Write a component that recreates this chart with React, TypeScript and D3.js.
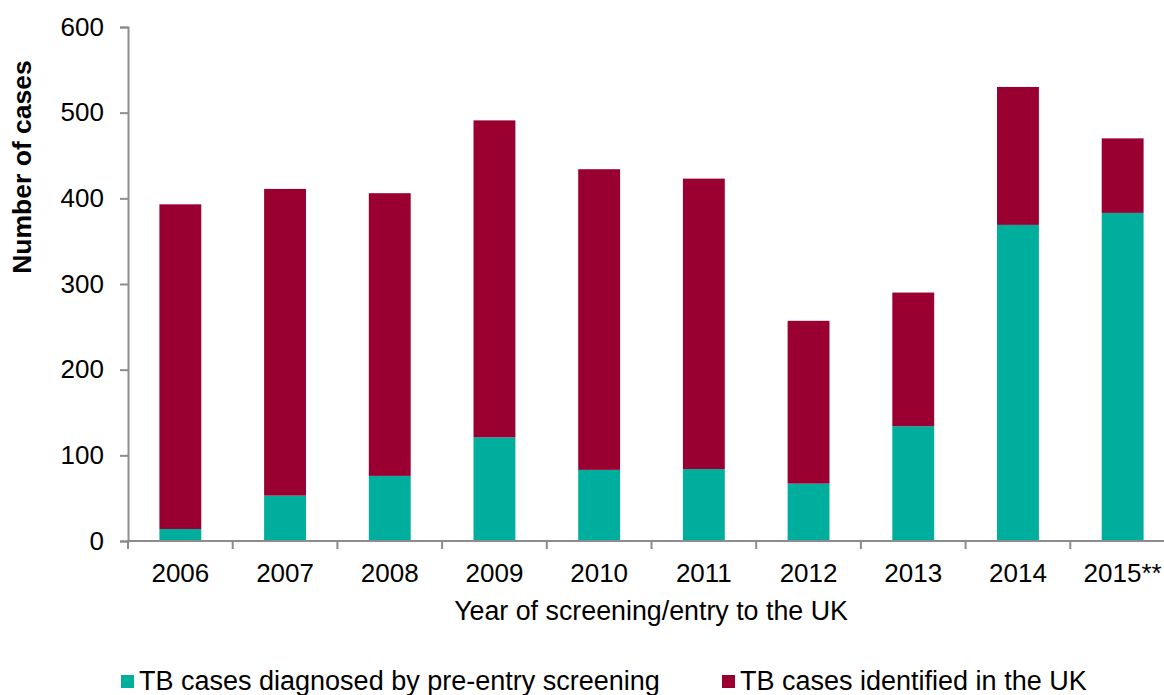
import React, { useRef, useEffect } from 'react';
import * as d3 from 'd3';

const years = ['2006', '2007', '2008', '2009', '2010', '2011', '2012', '2013', '2014', '2015**'];
const preEntry = [14, 53, 76, 121, 83, 84, 67, 134, 369, 383];
const identifiedUK = [379, 358, 330, 370, 351, 339, 190, 156, 161, 87];
const yTicks = [0, 100, 200, 300, 400, 500, 600];

const series = [
  { key: 'preEntry', name: 'TB cases diagnosed by pre-entry screening', color: '#00ae9e', values: preEntry },
  { key: 'uk', name: 'TB cases identified in the UK', color: '#990031', values: identifiedUK },
];

const App: React.FC = () => {
  const svgRef = useRef<SVGSVGElement | null>(null);

  useEffect(() => {
    if (!svgRef.current) return;
    const svg = d3.select(svgRef.current);
    svg.selectAll('*').remove();

    const font = '"Liberation Sans", Arial, sans-serif';
    const axisColor = '#8c8c8c';

    const x = d3.scaleBand().domain(years).range([128, 1175]).paddingInner(0).paddingOuter(0);
    const y = d3.scaleLinear().domain([0, 600]).range([541, 27]);
    const barW = x.bandwidth() * 0.4;

    const rows = years.map((yr, i) => ({ year: yr, preEntry: preEntry[i], uk: identifiedUK[i] }));
    const stack = d3.stack<any>().keys(['preEntry', 'uk'])(rows);

    stack.forEach((layer, li) => {
      svg.append('g')
        .selectAll('rect')
        .data(layer)
        .join('rect')
        .attr('x', d => x(d.data.year)! + (x.bandwidth() - barW) / 2)
        .attr('y', d => y(d[1]))
        .attr('width', barW)
        .attr('height', d => y(d[0]) - y(d[1]))
        .attr('fill', series[li].color);
    });

    // Y axis
    const yAxis = svg.append('g')
      .attr('transform', 'translate(128,0)')
      .call(d3.axisLeft(y).tickValues(yTicks).tickSize(8).tickPadding(16));
    yAxis.select('.domain').attr('stroke', axisColor).attr('stroke-width', 2);
    yAxis.selectAll('.tick line').attr('stroke', axisColor).attr('stroke-width', 2);
    yAxis.selectAll('text')
      .style('font-family', font)
      .style('font-size', '26px')
      .attr('fill', '#000');

    // X axis
    const xAxis = svg.append('g').attr('transform', 'translate(0,541)');
    xAxis.append('line')
      .attr('x1', 128).attr('x2', 1175)
      .attr('stroke', axisColor).attr('stroke-width', 2);
    const bounds = [...years.map(yr => x(yr)!), 1175];
    xAxis.selectAll('.xt')
      .data(bounds)
      .join('line')
      .attr('x1', d => d).attr('x2', d => d)
      .attr('y1', 0).attr('y2', 8)
      .attr('stroke', axisColor).attr('stroke-width', 2);
    xAxis.selectAll('text')
      .data(years)
      .join('text')
      .attr('x', d => x(d)! + x.bandwidth() / 2)
      .attr('y', 41)
      .attr('text-anchor', 'middle')
      .style('font-family', font)
      .style('font-size', '26px')
      .text(d => d);

    svg.append('text')
      .attr('x', 651)
      .attr('y', 620)
      .attr('text-anchor', 'middle')
      .style('font-family', font)
      .style('font-size', '26.8px')
      .text('Year of screening/entry to the UK');

    svg.append('text')
      .attr('transform', 'translate(31,167) rotate(-90)')
      .attr('text-anchor', 'middle')
      .style('font-family', font)
      .style('font-size', '26.5px')
      .style('font-weight', 'bold')
      .text('Number of cases');

    // Legend
    const legendX = [121, 722];
    const legend = svg.append('g');
    const item = legend.selectAll('g')
      .data(series)
      .join('g')
      .attr('transform', (_, i) => `translate(${legendX[i]},675)`);
    item.append('rect')
      .attr('width', 13)
      .attr('height', 13)
      .attr('fill', d => d.color);
    item.append('text')
      .attr('x', 18)
      .attr('y', 15)
      .style('font-family', font)
      .style('font-size', '27px')
      .text(d => d.name);
  }, []);

  return (
    <svg
      ref={svgRef}
      width={1164}
      height={695}
      style={{ position: 'absolute', left: 0, top: 0, background: '#fff' }}
    />
  );
};

export default App;
